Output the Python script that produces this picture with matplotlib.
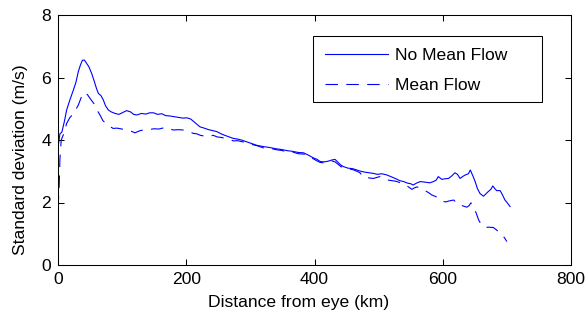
import matplotlib
matplotlib.use("Agg")
import matplotlib.pyplot as plt
from matplotlib.patches import Rectangle

plt.rcParams['font.family'] = ['Liberation Sans', 'DejaVu Sans']
plt.rcParams['lines.scale_dashes'] = False

# No Mean Flow (solid)
nmf_x = [1, 3, 6, 10, 13.5, 18, 24, 28, 31.7, 35, 38, 41, 44.7, 48, 52.5, 57, 60, 63, 67, 70.7, 74, 78.5, 83, 89, 95, 101, 107, 113, 118, 123, 130, 137, 143, 149, 155, 162, 168, 174, 180, 188, 195, 201, 207, 214, 221.5, 228, 235, 241, 247.6, 254, 260, 267, 273.5, 280, 286, 293, 300, 310, 320, 330, 340, 350, 357, 365, 375, 383, 390, 398, 404, 409, 415, 421, 427, 432, 437, 441, 445, 452, 460, 466, 472, 479, 486, 492, 498, 505, 513, 520, 527, 533, 539, 545, 550, 554, 559, 565, 572, 580, 585.5, 590, 593, 598.6, 604, 609, 614, 619, 623, 627, 631, 635, 640, 643, 647, 650.5, 654, 658, 663.5, 667, 671, 675, 678, 681, 684, 689.5, 693, 697, 701, 705]
nmf_y = [3.9, 4.2, 4.25, 4.6, 4.96, 5.25, 5.6, 5.85, 6.19, 6.4, 6.55, 6.56, 6.45, 6.35, 6.13, 5.85, 5.65, 5.49, 5.42, 5.28, 5.1, 4.96, 4.9, 4.85, 4.82, 4.88, 4.94, 4.9, 4.82, 4.8, 4.85, 4.83, 4.87, 4.87, 4.82, 4.84, 4.78, 4.77, 4.75, 4.72, 4.7, 4.71, 4.67, 4.55, 4.42, 4.38, 4.33, 4.3, 4.27, 4.2, 4.15, 4.1, 4.05, 4.03, 4.0, 3.95, 3.9, 3.83, 3.79, 3.76, 3.72, 3.69, 3.66, 3.64, 3.6, 3.59, 3.52, 3.43, 3.38, 3.31, 3.3, 3.32, 3.36, 3.38, 3.28, 3.2, 3.15, 3.1, 3.08, 3.04, 3.0, 2.97, 2.95, 2.93, 2.9, 2.92, 2.88, 2.82, 2.76, 2.7, 2.67, 2.62, 2.6, 2.56, 2.62, 2.67, 2.65, 2.63, 2.67, 2.72, 2.83, 2.74, 2.76, 2.77, 2.85, 2.95, 2.9, 2.77, 2.83, 2.88, 2.92, 3.04, 2.85, 2.67, 2.45, 2.29, 2.2, 2.27, 2.35, 2.42, 2.53, 2.45, 2.38, 2.38, 2.25, 2.08, 1.98, 1.87]

# Mean Flow (dashed)
mf_x = [0, 2, 3, 5, 9, 13.5, 18, 24, 28, 31.7, 36, 40, 42, 46, 50, 54, 57.7, 61, 65.5, 70, 74, 78.5, 82, 86, 92, 100, 107, 114, 120, 128, 136, 143.5, 150, 157, 163, 169.6, 175, 180, 188, 195, 201, 206, 211, 216, 222, 227, 232, 237, 242, 248, 255, 261, 268, 273.5, 280, 286, 293, 300, 310, 320, 330, 340, 350, 357, 365, 375, 383, 390, 398, 404, 409, 415, 421, 427, 432, 437, 441, 445, 452, 460, 466, 471, 476, 482, 487, 492, 497, 502, 508, 514, 520, 527, 533, 539, 545, 552, 556, 560, 565, 570, 575, 579, 583, 588, 592, 596, 601, 605, 610, 617, 621, 624.5, 630, 637.6, 641, 644, 647, 652, 656, 660, 666, 672, 679, 684, 688, 692, 696, 700]
mf_y = [1.8, 2.6, 3.4, 4.0, 4.2, 4.53, 4.7, 4.85, 4.98, 5.12, 5.35, 5.5, 5.52, 5.45, 5.33, 5.22, 5.12, 4.95, 4.8, 4.62, 4.55, 4.48, 4.42, 4.37, 4.38, 4.35, 4.32, 4.28, 4.23, 4.3, 4.33, 4.34, 4.36, 4.35, 4.38, 4.4, 4.35, 4.32, 4.33, 4.32, 4.3, 4.26, 4.21, 4.2, 4.15, 4.13, 4.11, 4.12, 4.15, 4.1, 4.08, 4.05, 4.02, 3.97, 3.98, 3.95, 3.92, 3.87, 3.82, 3.75, 3.74, 3.69, 3.66, 3.62, 3.62, 3.56, 3.55, 3.5, 3.4, 3.33, 3.28, 3.27, 3.3, 3.33, 3.3, 3.22, 3.15, 3.12, 3.07, 3.05, 3.0, 2.95, 2.81, 2.8, 2.78, 2.77, 2.8, 2.83, 2.78, 2.72, 2.7, 2.68, 2.64, 2.6, 2.52, 2.42, 2.47, 2.5, 2.45, 2.4, 2.35, 2.3, 2.24, 2.2, 2.16, 2.13, 2.03, 2.02, 2.05, 2.08, 2.0, 1.92, 1.9, 1.85, 1.9, 1.99, 1.85, 1.67, 1.44, 1.3, 1.2, 1.21, 1.2, 1.12, 1.04, 0.96, 0.88, 0.75]

x_ticks = [0, 200, 400, 600, 800]
y_ticks = [0, 2, 4, 6, 8]
FS = 12.6

fig = plt.figure(figsize=(5.86, 3.2), dpi=100)
ax = fig.add_axes([58/586, 55/320, 513/586, 250/320])
ax.plot(nmf_x, nmf_y, color='#0000ff', lw=0.8, label='No Mean Flow')
ax.plot(mf_x, mf_y, color='#0000ff', lw=0.8, dashes=(9, 6), label='Mean Flow')
ax.set_xlim(0, 800)
ax.set_ylim(0, 8)
ax.set_xticks(x_ticks)
ax.set_yticks(y_ticks)
ax.tick_params(direction='in', length=4, width=0.75, top=True, right=True,
               labelsize=FS, pad=5)
for s in ax.spines.values():
    s.set_linewidth(0.75)
ax.set_xlabel('Distance from eye (km)', fontsize=FS)
ax.set_ylabel('Standard deviation (m/s)', fontsize=FS)
ax.xaxis.set_label_coords(0.469, -0.118)
ax.yaxis.set_label_coords(-0.058, 0.42)

# legend frame (MATLAB-style, wide on the right)
ax.add_patch(Rectangle((0.497, 0.652), 0.4464, 0.264, transform=ax.transAxes,
                       facecolor='white', edgecolor='black', lw=0.75, zorder=4))
leg = ax.legend(loc='center left', bbox_to_anchor=(0.5205, 0.778), fontsize=FS,
                frameon=False, handlelength=3.6, handletextpad=0.4,
                labelspacing=0.88, borderpad=0, borderaxespad=0)
leg.set_zorder(5)
fig.savefig('out.png', dpi=100)
